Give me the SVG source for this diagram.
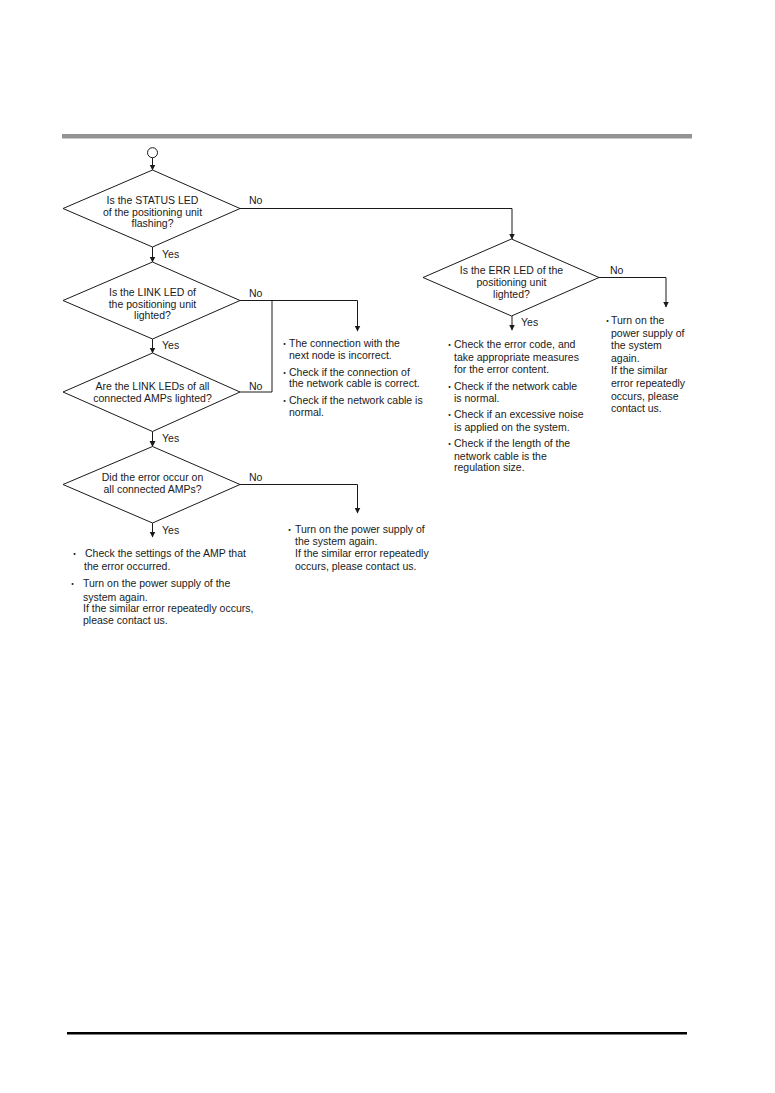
<svg xmlns="http://www.w3.org/2000/svg" width="775" height="1093" viewBox="0 0 775 1093">
<style>
text{font-family:"Liberation Sans",Arial,sans-serif;font-size:10.5px;fill:#1a1a1a}
.c{text-anchor:middle}
.b{font-family:"Noto Sans CJK JP","Liberation Sans",sans-serif;font-size:9px}
.shape{fill:#fff;stroke:#1a1a1a;stroke-width:1}
.ln{fill:none;stroke:#1a1a1a;stroke-width:1}
</style>
<defs>
<marker id="ar" markerWidth="6" markerHeight="7" refX="5.5" refY="3.5" orient="auto" markerUnits="userSpaceOnUse">
<path d="M0,0.5 L6,3.5 L0,6.5 Z" fill="#1a1a1a"/>
</marker>
</defs>
<rect x="0" y="0" width="775" height="1093" fill="#fff"/>
<rect x="62" y="134" width="630" height="4.5" fill="#939393"/>
<rect x="67" y="1032" width="620" height="2.5" fill="#000"/>

<g id="connectors">
<line class="ln" x1="152.5" y1="157.7" x2="152.5" y2="170" marker-end="url(#ar)"/>
<line class="ln" x1="152.5" y1="247" x2="152.5" y2="262" marker-end="url(#ar)"/>
<line class="ln" x1="152.5" y1="339" x2="152.5" y2="353" marker-end="url(#ar)"/>
<line class="ln" x1="152.5" y1="431.5" x2="152.5" y2="446.5" marker-end="url(#ar)"/>
<line class="ln" x1="152.5" y1="523" x2="152.5" y2="537" marker-end="url(#ar)"/>
<polyline class="ln" points="240,208.5 512,208.5 512,239" marker-end="url(#ar)"/>
<polyline class="ln" points="240,300.5 357.5,300.5 357.5,331" marker-end="url(#ar)"/>
<polyline class="ln" points="240,392 272,392 272,300.5"/>
<polyline class="ln" points="240,484.5 357.5,484.5 357.5,513" marker-end="url(#ar)"/>
<line class="ln" x1="512" y1="316" x2="512" y2="330" marker-end="url(#ar)"/>
<polyline class="ln" points="599,277.5 666,277.5 666,307" marker-end="url(#ar)"/>
<text x="249" y="204">No</text>
<text x="249" y="297">No</text>
<text x="249" y="389.5">No</text>
<text x="249" y="480.5">No</text>
<text x="610" y="274">No</text>
<text x="162" y="258">Yes</text>
<text x="162" y="349">Yes</text>
<text x="162" y="441.5">Yes</text>
<text x="162" y="534">Yes</text>
<text x="521" y="326">Yes</text>
</g>

<g id="start">
<circle class="shape" cx="152.5" cy="152.7" r="5"/>
</g>

<g id="d1">
<polygon class="shape" points="152.5,170 240,208.5 152.5,247 63,208.5"/>
<text class="c" x="152.5" y="204">Is the STATUS LED</text>
<text class="c" x="152.5" y="215.5">of the positioning unit</text>
<text class="c" x="152.5" y="227">flashing?</text>
</g>

<g id="d2">
<polygon class="shape" points="152.5,262 240,300.5 152.5,339 63,300.5"/>
<text class="c" x="152.5" y="296">Is the LINK LED of</text>
<text class="c" x="152.5" y="307.5">the positioning unit</text>
<text class="c" x="152.5" y="319">lighted?</text>
</g>

<g id="d3">
<polygon class="shape" points="152.5,353 240,392 152.5,431.5 63,392"/>
<text class="c" x="152.5" y="389.5">Are the LINK LEDs of all</text>
<text class="c" x="152.5" y="402">connected AMPs lighted?</text>
</g>

<g id="d4">
<polygon class="shape" points="152.5,446.5 240,484.5 152.5,523 63,484.5"/>
<text class="c" x="152.5" y="481">Did the error occur on</text>
<text class="c" x="152.5" y="493">all connected AMPs?</text>
</g>

<g id="d5">
<polygon class="shape" points="511.5,239 599,277.5 511.5,316 423,277.5"/>
<text class="c" x="511.5" y="274">Is the ERR LED of the</text>
<text class="c" x="511.5" y="286">positioning unit</text>
<text class="c" x="511.5" y="297.5">lighted?</text>
</g>

<g id="noteLink">
<text class="b" x="280" y="347">・</text>
<text x="289" y="347">The connection with the</text>
<text x="289" y="359">next node is incorrect.</text>
<text class="b" x="280" y="375.5">・</text>
<text x="289" y="375.5">Check if the connection of</text>
<text x="289" y="387">the network cable is correct.</text>
<text class="b" x="280" y="404">・</text>
<text x="289" y="404">Check if the network cable is</text>
<text x="289" y="416">normal.</text>
</g>

<g id="noteErrYes">
<text class="b" x="445" y="348">・</text>
<text x="454" y="348">Check the error code, and</text>
<text x="454" y="360.5">take appropriate measures</text>
<text x="454" y="373">for the error content.</text>
<text class="b" x="445" y="390">・</text>
<text x="454" y="390">Check if the network cable</text>
<text x="454" y="402">is normal.</text>
<text class="b" x="445" y="418">・</text>
<text x="454" y="418">Check if an excessive noise</text>
<text x="454" y="430.5">is applied on the system.</text>
<text class="b" x="445" y="446.5">・</text>
<text x="454" y="446.5">Check if the length of the</text>
<text x="454" y="459.5">network cable is the</text>
<text x="454" y="471">regulation size.</text>
</g>

<g id="noteErrNo">
<text class="b" x="603" y="324">・</text>
<text x="611" y="324">Turn on the</text>
<text x="611" y="336.5">power supply of</text>
<text x="611" y="349">the system</text>
<text x="611" y="361.5">again.</text>
<text x="611" y="374">If the similar</text>
<text x="611" y="387">error repeatedly</text>
<text x="611" y="399.5">occurs, please</text>
<text x="611" y="412">contact us.</text>
</g>

<g id="noteAllNo">
<text class="b" x="285" y="533">・</text>
<text x="295" y="533">Turn on the power supply of</text>
<text x="295" y="544.5">the system again.</text>
<text x="295" y="556.5">If the similar error repeatedly</text>
<text x="295" y="569.5">occurs, please contact us.</text>
</g>

<g id="noteAllYes">
<text class="b" x="70" y="556.5">・</text>
<text x="85" y="556.5">Check the settings of the AMP that</text>
<text x="84" y="569.5">the error occurred.</text>
<text class="b" x="68" y="587">・</text>
<text x="83" y="587">Turn on the power supply of the</text>
<text x="83" y="600.5">system again.</text>
<text x="83" y="612">If the similar error repeatedly occurs,</text>
<text x="83" y="624">please contact us.</text>
</g>
</svg>
